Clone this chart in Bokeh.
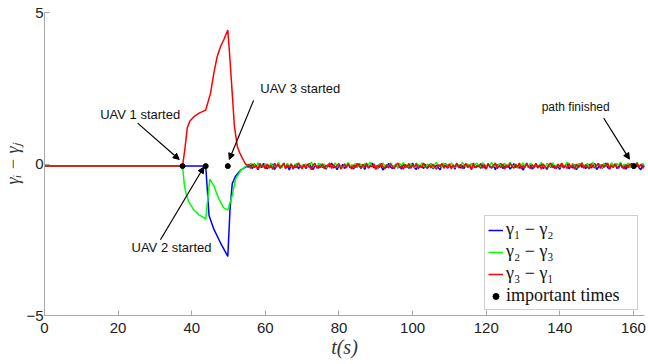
import numpy as np
from bokeh.plotting import figure
from bokeh.models import Range1d, FixedTicker, Arrow, NormalHead, Legend, LegendItem, ColumnDataSource
from bokeh.core.properties import value
from bokeh.embed import file_html
from bokeh.resources import INLINE

# ---------------- data ----------------
# transient part
t_blue = [0, 43.8, 44.7, 46, 47.8, 49.8, 50.4, 51, 51.9, 53.3, 54.6, 55]
blue_tr = [-0.07, -0.07, -1.7, -2.15, -2.6, -3.05, -1.5, -0.65, -0.4, -0.2, -0.1, -0.08]

t_green = [0, 37.5, 38, 38.5, 39.2, 40.6, 42, 43.3, 43.8, 44.9, 46, 47.4, 48.7, 49.8, 51, 51.9, 53.3, 54.6, 55]
green_tr = [-0.07, -0.07, -0.7, -1.0, -1.25, -1.52, -1.68, -1.77, -1.82, -0.5, -0.72, -1.17, -1.45, -1.52,
            -1.04, -0.5, -0.22, -0.08, -0.05]

t_red = [0, 37.5, 38.1, 38.8, 39.5, 40.6, 42, 43.8, 45.1, 46, 46.9, 47.8, 48.7, 49.8, 50.4, 51, 51.6, 52.4,
         53, 53.7, 54.6, 55]
red_tr = [-0.07, -0.07, 0.46, 1.2, 1.42, 1.56, 1.68, 1.78, 2.33, 3.0, 3.54, 3.87, 4.1, 4.42, 3.43, 2.33,
          1.23, 0.57, 0.38, 0.2, 0.0, -0.03]

# steady-state part, sampled every 0.5 s from 55.5 s to 163 s
t_noise = np.arange(55.5, 163.01, 0.5)

red_noise = [
    -0.02, -0.15, 0.01, -0.12, -0.04, -0.17, 0.02, -0.10, -0.03, -0.16, 0.00, -0.13,
    -0.05, -0.18, 0.03, -0.09, -0.01, -0.14, -0.06, 0.02, -0.15, -0.03, -0.11, 0.01,
    -0.17, -0.04, -0.12, 0.03, -0.08, -0.16, -0.02, -0.13, 0.00, -0.10, -0.18, -0.03,
    0.02, -0.14, -0.06, -0.11, 0.01, -0.16, -0.04, -0.09, 0.03, -0.15, -0.02, -0.12,
    -0.05, 0.02, -0.17, -0.08, -0.01, -0.13, 0.01, -0.10, -0.16, -0.03, -0.12, 0.02,
    -0.07, -0.15, -0.01, -0.11, 0.03, -0.14, -0.05, -0.09, 0.00, -0.18, -0.04, -0.12,
    0.02, -0.10, -0.16, -0.02, -0.13, 0.01, -0.08, -0.15, -0.03, 0.03, -0.12, -0.06,
    -0.17, -0.01, -0.11, 0.02, -0.14, -0.04, -0.10, 0.01, -0.16, -0.05, -0.12, 0.03,
    -0.09, -0.15, -0.02, -0.13, 0.00, -0.11, -0.17, -0.03, -0.08, 0.02, -0.14, -0.05,
    -0.12, 0.01, -0.16, -0.04, -0.10, 0.03, -0.13, -0.01, -0.15, -0.06, 0.02, -0.11,
    -0.03, -0.17, 0.00, -0.12, -0.05, -0.09, 0.02, -0.14, -0.02, -0.16, 0.01, -0.10,
    -0.13, -0.04, 0.03, -0.15, -0.07, -0.11, 0.00, -0.17, -0.03, -0.12, 0.02, -0.08,
    -0.14, -0.01, -0.10, 0.03, -0.16, -0.05, -0.12, 0.01, -0.09, -0.15, -0.02, -0.13,
    0.02, -0.11, -0.04, -0.17, 0.00, -0.10, -0.14, -0.03, 0.03, -0.12, -0.06, -0.16,
    -0.01, -0.09, 0.02, -0.13, -0.05, -0.15, 0.01, -0.11, -0.03, -0.17, 0.00, -0.12,
    -0.06, 0.03, -0.14, -0.02, -0.10, -0.16, 0.01, -0.08, -0.13, -0.04, 0.02, -0.15,
    -0.01, -0.11, -0.05, 0.03, -0.17, -0.03, -0.12, 0.00, -0.09, -0.14, 0.02, -0.10,
    -0.16, -0.02, -0.13, 0.01, -0.07, -0.15, -0.04, 0.03, -0.11, -0.01, -0.14, -0.06,
]

green_noise = [
    -0.05, 0.02, -0.09, -0.01, -0.12, 0.04, -0.07, -0.03, -0.11, 0.01, -0.06, -0.14,
    0.03, -0.08, -0.02, -0.10, 0.05, -0.04, -0.13, -0.01, -0.07, 0.02, -0.09, -0.05,
    -0.15, 0.00, -0.06, 0.04, -0.10, -0.03, -0.08, 0.01, -0.12, -0.04, 0.06, -0.07,
    -0.02, -0.11, 0.03, -0.05, -0.09, 0.00, -0.14, -0.03, 0.02, -0.08, -0.06, 0.04,
    -0.10, -0.01, -0.07, -0.13, 0.01, -0.04, 0.05, -0.09, -0.02, -0.11, 0.03, -0.06,
    -0.08, 0.00, -0.12, 0.02, -0.05, -0.03, 0.06, -0.10, -0.01, -0.07, -0.15, 0.01,
    -0.04, 0.03, -0.09, -0.02, -0.11, 0.04, -0.06, -0.08, 0.00, -0.13, 0.02, -0.05,
    0.05, -0.07, -0.03, -0.10, 0.01, -0.06, -0.12, 0.03, -0.02, -0.09, 0.04, -0.04,
    -0.11, 0.00, -0.07, 0.02, -0.14, -0.03, 0.06, -0.08, -0.01, -0.10, 0.03, -0.05,
    -0.02, -0.09, 0.04, -0.06, -0.12, 0.01, -0.04, -0.08, 0.05, -0.03, -0.10, 0.00,
    -0.07, 0.02, -0.13, -0.02, 0.03, -0.06, -0.09, 0.04, -0.01, -0.11, 0.02, -0.05,
    0.06, -0.08, -0.03, -0.12, 0.01, -0.04, -0.07, 0.03, -0.10, -0.02, 0.05, -0.06,
    -0.09, 0.00, -0.14, 0.02, -0.05, 0.04, -0.08, -0.01, -0.11, 0.03, -0.04, -0.07,
    0.01, -0.10, -0.03, 0.05, -0.06, -0.12, 0.02, -0.02, -0.09, 0.04, -0.05, -0.08,
    0.00, -0.11, 0.03, -0.04, -0.07, 0.06, -0.01, -0.10, 0.02, -0.06, -0.13, 0.01,
    -0.03, 0.04, -0.08, -0.05, 0.02, -0.11, -0.02, 0.05, -0.07, -0.09, 0.01, -0.04,
    -0.12, 0.03, -0.06, 0.00, -0.10, 0.04, -0.03, -0.08, 0.02, -0.05, 0.06, -0.09,
    -0.01, -0.07, 0.03, -0.11, -0.04, 0.01, -0.06, 0.05, -0.09, -0.02, 0.02, -0.05,
]

blue_noise = [
    -0.10, -0.03, -0.15, 0.01, -0.08, -0.19, -0.05, -0.12, 0.02, -0.09, -0.16, -0.04,
    -0.11, 0.00, -0.18, -0.07, -0.02, -0.13, -0.09, 0.03, -0.14, -0.06, -0.20, -0.03,
    -0.08, -0.12, 0.01, -0.16, -0.05, -0.10, -0.02, -0.15, -0.07, 0.02, -0.12, -0.18,
    -0.04, -0.09, -0.14, 0.00, -0.11, -0.06, -0.17, -0.02, -0.10, 0.03, -0.13, -0.08,
    -0.19, -0.04, -0.11, -0.01, -0.15, -0.07, 0.02, -0.12, -0.09, -0.16, -0.03, -0.10,
    0.01, -0.14, -0.06, -0.18, -0.02, -0.11, -0.08, 0.03, -0.13, -0.05, -0.16, -0.01,
    -0.09, -0.20, -0.04, -0.12, 0.02, -0.10, -0.15, -0.06, -0.02, -0.13, -0.08, -0.17,
    0.00, -0.11, -0.05, -0.14, -0.09, 0.03, -0.12, -0.18, -0.03, -0.10, -0.07, -0.15,
    -0.01, -0.13, -0.06, 0.02, -0.16, -0.09, -0.04, -0.12, -0.19, -0.02, -0.10, 0.01,
    -0.14, -0.07, -0.11, -0.03, -0.17, 0.02, -0.08, -0.13, -0.05, -0.15, -0.01, -0.10,
    -0.06, -0.18, 0.03, -0.12, -0.09, -0.04, -0.14, -0.02, -0.11, -0.16, 0.00, -0.08,
    -0.13, -0.05, -0.19, -0.02, -0.10, 0.02, -0.15, -0.07, -0.12, -0.03, -0.17, -0.09,
    0.01, -0.11, -0.06, -0.14, -0.01, -0.20, -0.08, 0.03, -0.12, -0.04, -0.16, -0.10,
    -0.02, -0.13, -0.07, 0.00, -0.15, -0.09, -0.18, -0.03, -0.11, 0.02, -0.14, -0.06,
    -0.10, -0.17, -0.01, -0.12, -0.05, 0.03, -0.16, -0.08, -0.13, -0.02, -0.19, -0.07,
    0.01, -0.11, -0.04, -0.15, -0.09, -0.01, -0.13, -0.06, 0.02, -0.18, -0.10, -0.03,
    -0.14, -0.07, 0.03, -0.12, -0.16, -0.05, -0.10, 0.00, -0.15, -0.08, -0.02, -0.13,
    -0.06, -0.17, -0.01, -0.11, 0.02, -0.14, -0.09, -0.04, -0.12, -0.19, -0.03, -0.10,
]

# important times
t_events = [37.5, 43.8, 49.8, 160.1]
y_events = [-0.07, -0.07, -0.07, -0.07]

# annotations: text and arrow (tail -> head), in data units
ann_text = ["UAV 1 started", "UAV 2 started", "UAV 3 started", "path finished"]
ann_tx = [26.0, 34.5, 69.5, 144.3]
ann_ty = [1.65, -2.77, 2.5, 1.88]
ann_size = ["13px", "13px", "13px", "12px"]
arr_x0 = [25.3, 31.5, 56.8, 151.9]
arr_y0 = [1.35, -2.5, 2.1, 1.52]
arr_x1 = [36.6, 43.3, 50.2, 158.9]
arr_y1 = [0.15, -0.1, 0.15, 0.16]

x_ticks = [0, 20, 40, 60, 80, 100, 120, 140, 160]
y_ticks = [-5, 0, 5]

labels = ["γ₁ − γ₂", "γ₂ − γ₃", "γ₃ − γ₁", "important times"]
colors = ["#0000ff", "#00ff00", "#ff0000"]

# ---------------- figure ----------------
p = figure(width=648, height=364, output_backend="svg", toolbar_location=None,
           x_range=Range1d(0, 163), y_range=Range1d(-5, 5),
           min_border_left=44, min_border_right=4, min_border_top=12, min_border_bottom=49)
p.outline_line_color = None
p.grid.visible = False
p.background_fill_color = "white"
p.border_fill_color = "white"

for ax in (p.xaxis[0], p.yaxis[0]):
    ax.axis_line_color = "#a8a8a8"
    ax.major_tick_line_color = "#a8a8a8"
    ax.minor_tick_line_color = None
    ax.major_tick_in = 5
    ax.major_tick_out = 0
    ax.major_label_text_font = "Liberation Sans"
    ax.major_label_text_font_size = "15px"
    ax.major_label_text_color = "#222222"
    ax.axis_label_text_font = "Liberation Serif"
    ax.axis_label_text_font_style = "italic"
    ax.axis_label_text_color = "#333333"

p.xaxis.axis_label_text_font_size = "20px"
p.yaxis.axis_label_text_font_size = "18px"
p.xaxis.ticker = FixedTicker(ticks=x_ticks)
p.yaxis.ticker = FixedTicker(ticks=y_ticks)
p.xaxis.major_label_standoff = 7
p.xaxis.axis_label_standoff = 0
p.yaxis.major_label_standoff = 1
p.yaxis.axis_label_standoff = 0
p.xaxis.axis_label = "t(s)"
p.yaxis.axis_label = "γᵢ − γⱼ"

rb = p.line(list(t_blue) + list(t_noise), blue_tr + blue_noise, line_color=colors[0], line_width=1.5)
rg = p.line(list(t_green) + list(t_noise), green_tr + green_noise, line_color=colors[1], line_width=1.5)
rr = p.line(list(t_red) + list(t_noise), red_tr + red_noise, line_color=colors[2], line_width=1.5)
re = p.scatter(t_events, y_events, marker="circle", size=5, fill_color="black", line_color="black")

src = ColumnDataSource(dict(x=ann_tx, y=ann_ty, t=ann_text, s=ann_size))
p.text(x="x", y="y", text="t", source=src, text_font=value("Liberation Sans"),
       text_font_size="s", text_align="center", text_baseline="middle", text_color="#111111")

for x0, y0, x1, y1 in zip(arr_x0, arr_y0, arr_x1, arr_y1):
    p.add_layout(Arrow(end=NormalHead(size=6, fill_color="black", line_color="black"),
                       x_start=x0, y_start=y0, x_end=x1, y_end=y1,
                       line_color="black", line_width=1.2))

legend = Legend(items=[LegendItem(label=labels[0], renderers=[rb]),
                       LegendItem(label=labels[1], renderers=[rg]),
                       LegendItem(label=labels[2], renderers=[rr]),
                       LegendItem(label=labels[3], renderers=[re])],
                location=(440, 5))
legend.label_text_font = "Liberation Serif"
legend.label_text_font_size = "18px"
legend.label_text_color = "#111111"
legend.glyph_width = 15
legend.glyph_height = 18
legend.label_standoff = 3
legend.label_width = 128
legend.label_height = 18
legend.spacing = 1
legend.padding = 3
legend.margin = 0
legend.border_line_color = "#a0a0a0"
legend.background_fill_color = "white"
legend.background_fill_alpha = 1.0
p.add_layout(legend)

open("out.html", "w").write(file_html(p, INLINE))
